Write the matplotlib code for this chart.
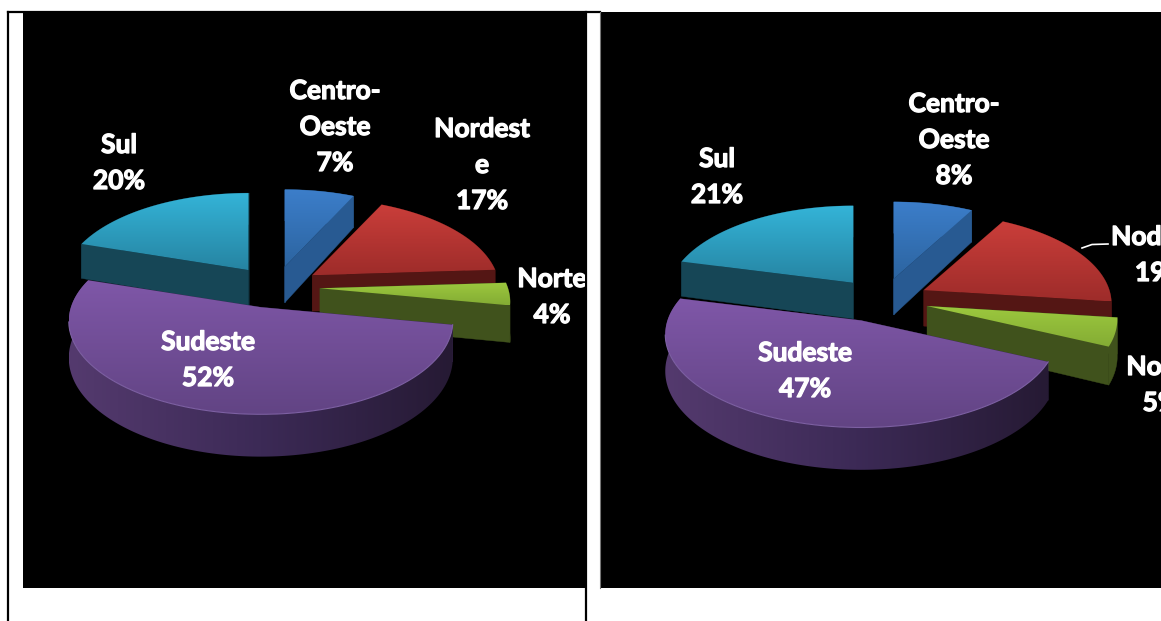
import numpy as np
import matplotlib
matplotlib.use("Agg")
import matplotlib.pyplot as plt
import matplotlib.patheffects as pe
from matplotlib.patches import Polygon, Rectangle

# ---- data ----
regions = ["Centro-Oeste", "Nordeste", "Norte", "Sudeste", "Sul"]
values_left = [7, 17, 4, 52, 20]
values_right = [8, 19, 5, 47, 21]
names_left = ["Centro-\nOeste", "Nordest\ne", "Norte", "Sudeste", "Sul"]
names_right = ["Centro-\nOeste", "Nodeste", "Norte", "Sudeste", "Sul"]

# ---- styles ----
top_colors = [((60, 126, 202), (44, 100, 160)),
              ((202, 62, 58), (158, 44, 42)),
              ((156, 200, 62), (132, 172, 52)),
              ((127, 87, 168), (98, 68, 132)),
              ((52, 180, 216), (38, 132, 162))]
side_colors = [(40, 90, 146), (84, 22, 20), (64, 82, 28), (60, 42, 85), (22, 70, 86)]
purple_side = [(84, 58, 110), (60, 42, 86), (38, 26, 52)]
draw_order = [4, 0, 1, 2, 3]

RX, RY, PERSP, DEPTH, DEPTH_SCALE = 188.0, 88.5, 0.149, 36.0, 0.03
EXPLODE_L, EXPLODE_R = 0.236, 0.246

fig = plt.figure(figsize=(11.61, 6.21), dpi=100, facecolor="white")
ax = fig.add_axes([0, 0, 1, 1])
ax.axis("off")
zorder = [10]


def rgb(c):
    return np.array(c) / 255.0


def gradient(poly, stops, horizontal=False):
    """Fill a polygon with a linear gradient using a clipped image."""
    poly = np.asarray(poly)
    x0, x1 = poly[:, 0].min(), poly[:, 0].max()
    y0, y1 = poly[:, 1].min(), poly[:, 1].max()
    n = 128
    t = np.linspace(0, 1, n)
    s = np.linspace(0, 1, len(stops))
    arr = np.stack([np.interp(t, s, [rgb(c)[i] for c in stops]) for i in range(3)], axis=-1)
    arr = arr[None, :, :] if horizontal else arr[:, None, :]
    patch = Polygon(poly, closed=True, transform=ax.transData, fc="none", ec="none")
    ax.add_patch(patch)
    im = ax.imshow(arr, extent=(x0, x1, y1, y0), aspect="auto", interpolation="bilinear",
                   zorder=zorder[0])
    im.set_clip_path(patch)
    zorder[0] += 1


def flat(poly, color):
    ax.add_patch(Polygon(poly, closed=True, fc=rgb(color), ec=rgb(color), lw=0.3, zorder=zorder[0]))
    zorder[0] += 1


def pie3d(values, cx, cy, explode, big_nudge, big_xscale):
    vals = np.asarray(values, dtype=float)
    edges = np.concatenate([[0], np.cumsum(vals)]) / vals.sum() * 2 * np.pi
    for i in draw_order:
        a0, a1 = edges[i], edges[i + 1]
        mid = (a0 + a1) / 2
        big = regions[i] == "Sudeste"
        c = np.cos(mid)
        scale_x = big_xscale if big else 1 / (1 + DEPTH_SCALE * max(c, 0))
        scale_y = 1 / (1 + DEPTH_SCALE * min(c, 0))
        ox = cx + explode * 191 * np.sin(mid) + (big_nudge if big else 0)
        oy = cy - explode * RY * c
        th = np.linspace(a0, a1, 160)
        X, Y = np.sin(th), np.cos(th)
        w = 1 + PERSP * Y
        rim = np.column_stack([ox + scale_x * RX * X / w, oy - scale_y * RY * Y / w])
        low = rim + np.column_stack([np.zeros_like(w), DEPTH / w])
        apex = np.array([ox, oy])
        apex_low = apex + [0, DEPTH]
        side = side_colors[i]
        flat([apex, rim[0], low[0], apex_low], side)
        flat([apex, rim[-1], low[-1], apex_low], side)
        band = np.vstack([rim, low[::-1]])
        if big:
            gradient(band, purple_side, horizontal=True)
        else:
            flat(band, side)
        gradient(np.vstack([apex, rim]), top_colors[i])
        if big:
            front = Y < -0.15
            ax.plot(rim[front, 0], rim[front, 1], color="#7d60a3", lw=0.8, zorder=zorder[0])
            zorder[0] += 1


def labels(names, values, positions, clip=None):
    for name, val, (x, y) in zip(names, values, positions):
        lines = name.split("\n") + [f"{val}%"]
        for k, line in enumerate(lines):
            t = ax.text(x, y + k * 36, line, color="white", ha="center", va="center",
                        fontsize=19, fontweight="bold", family=["Lato", "DejaVu Sans"],
                        zorder=500,
                        path_effects=[pe.withStroke(linewidth=0.9, foreground="white")])
            if clip is not None:
                t.set_clip_path(clip)
                t.set_clip_on(True)


# panels
ax.add_patch(Rectangle((23, 12), 562, 576, fc="black", ec="none", zorder=1))
ax.add_patch(Rectangle((600, 12), 561, 576, fc="black", ec="none", zorder=1))
ax.plot([8, 8], [12, 621], color="black", lw=1.6, zorder=2)
ax.plot([585.5, 585.5], [12, 621], color="black", lw=1.6, zorder=2)
ax.plot([8, 600], [12, 12], color="black", lw=1.6, zorder=2)
ax.plot([600, 600], [12, 588], color="#777777", lw=0.8, zorder=2)

pie3d(values_left, 275, 287, EXPLODE_L, -3, 1.01)
pie3d(values_right, 882, 300, EXPLODE_R, -5, 1.03)

# labels: same order as regions
clip_left = Rectangle((23, 12), 562, 576, transform=ax.transData, fc="none", ec="none")
ax.add_patch(clip_left)
labels(names_left, values_left,
       [(335, 91), (482, 129), (552, 279), (208, 342), (119, 145)], clip=clip_left)
labels(names_right, values_right,
       [(954, 104), (1161, 237), (1161, 367), (805, 353), (717, 159)])
ax.plot([1082, 1092, 1108], [248, 244.5, 244], color="white", lw=1.2, zorder=400)

ax.set_xlim(0, 1161)
ax.set_ylim(621, 0)
fig.savefig("out.png", dpi=100, facecolor="white")
